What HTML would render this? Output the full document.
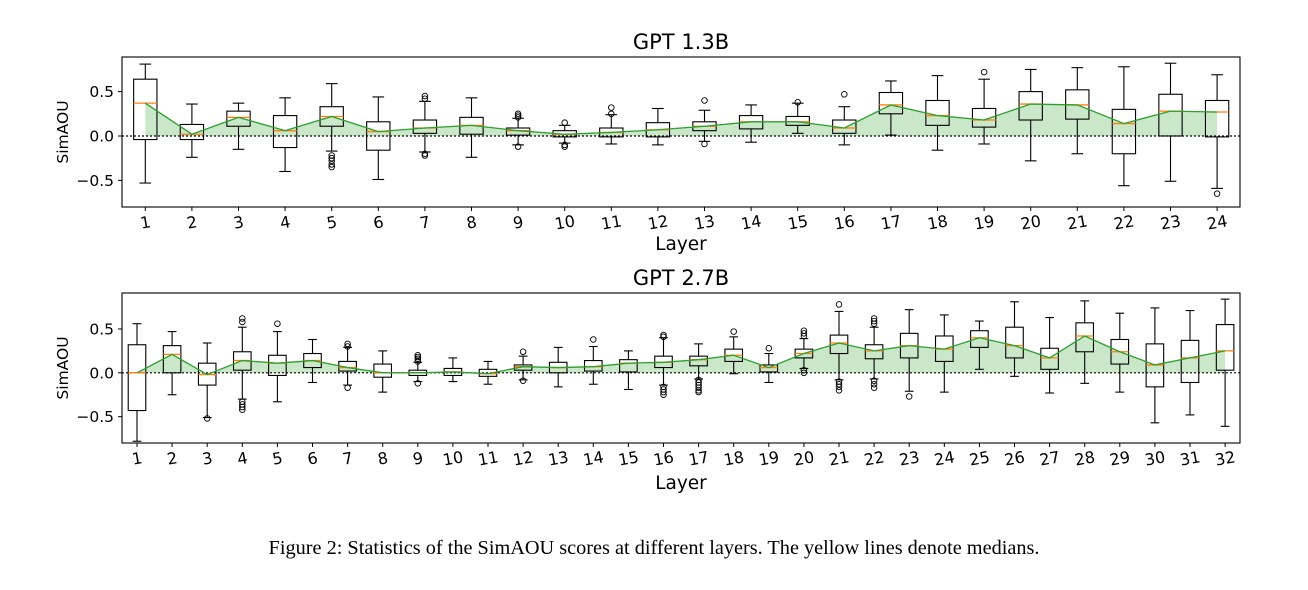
<!DOCTYPE html>
<html><head><meta charset="utf-8"><style>
body{margin:0;background:#fff;width:1308px;height:590px;overflow:hidden}
svg{display:block}
text{font-family:"DejaVu Sans","Liberation Sans",sans-serif;fill:#000}
.cap{font-family:"Liberation Serif",serif;font-size:20.3px}
</style></head><body>
<svg id="fig" width="1308" height="590" viewBox="0 0 1308 590">
<text class="cap" x="654" y="554" text-anchor="middle">Figure 2: Statistics of the SimAOU scores at different layers. The yellow lines denote medians.</text>
</svg>
<script>
// GPT 1.3B: [whiskerHigh, q3, median, q1, whiskerLow]
const stats13 = [
[0.81,0.64,0.37,-0.04,-0.53],[0.36,0.13,0.02,-0.04,-0.24],[0.37,0.28,0.21,0.11,-0.15],[0.43,0.23,0.06,-0.13,-0.40],
[0.59,0.33,0.22,0.11,-0.17],[0.44,0.16,0.05,-0.16,-0.49],[0.39,0.18,0.09,0.03,-0.18],[0.43,0.21,0.12,0.02,-0.24],
[0.20,0.09,0.06,0.01,-0.10],[0.12,0.06,0.02,-0.01,-0.08],[0.24,0.09,0.04,-0.01,-0.09],[0.31,0.15,0.07,-0.01,-0.10],
[0.29,0.16,0.11,0.06,-0.06],[0.35,0.23,0.16,0.08,-0.07],[0.37,0.22,0.16,0.12,0.03],[0.33,0.18,0.09,0.03,-0.10],
[0.62,0.49,0.35,0.25,0.01],[0.68,0.40,0.23,0.12,-0.16],[0.64,0.31,0.18,0.10,-0.09],[0.75,0.50,0.36,0.18,-0.28],
[0.77,0.52,0.35,0.19,-0.20],[0.78,0.30,0.14,-0.20,-0.56],[0.82,0.47,0.28,0.00,-0.51],[0.69,0.40,0.27,-0.01,-0.59]];
const outliers13 = [[],[],[],[],[-0.22,-0.25,-0.28,-0.32,-0.35],[],[0.42,0.45,-0.20,-0.22],[],[0.21,0.23,0.25,-0.12],[0.15,-0.10,-0.12],
[0.25,0.32],[],[0.40,-0.09],[],[0.38],[0.47],[],[],[0.72],[],[],[],[],[-0.65]];
// GPT 2.7B
const stats27 = [
[0.56,0.32,0.00,-0.43,-0.78],[0.47,0.31,0.21,0.00,-0.25],[0.34,0.11,-0.02,-0.14,-0.51],[0.52,0.24,0.14,0.03,-0.30],
[0.47,0.20,0.11,-0.03,-0.33],[0.38,0.22,0.14,0.06,-0.11],[0.29,0.13,0.06,0.02,-0.14],[0.25,0.10,0.00,-0.05,-0.22],
[0.12,0.03,0.00,-0.03,-0.10],[0.17,0.05,0.01,-0.03,-0.10],[0.13,0.04,-0.01,-0.04,-0.13],[0.19,0.09,0.07,0.03,-0.08],
[0.29,0.12,0.06,0.00,-0.16],[0.30,0.14,0.07,0.02,-0.13],[0.25,0.15,0.11,0.01,-0.19],[0.40,0.19,0.12,0.06,-0.14],
[0.33,0.19,0.15,0.08,-0.07],[0.41,0.27,0.20,0.13,-0.01],[0.22,0.09,0.06,0.01,-0.11],[0.39,0.27,0.22,0.17,0.05],
[0.70,0.43,0.34,0.22,-0.08],[0.52,0.32,0.25,0.16,-0.07],[0.72,0.45,0.31,0.17,-0.21],[0.66,0.42,0.27,0.13,-0.22],
[0.59,0.48,0.40,0.29,0.04],[0.81,0.52,0.31,0.17,-0.04],[0.63,0.28,0.17,0.04,-0.23],[0.82,0.57,0.42,0.24,-0.12],
[0.68,0.38,0.24,0.10,-0.22],[0.74,0.33,0.09,-0.16,-0.57],[0.71,0.37,0.17,-0.11,-0.48],[0.84,0.55,0.25,0.03,-0.61]];
const outliers27 = [[],[],[-0.52],[0.58,0.62,-0.33,-0.36,-0.39,-0.42],[0.56],[],[0.30,0.33,-0.17],[],[0.13,0.16,0.18,0.20,-0.12],[],
[],[0.24,-0.09],[],[0.38],[],[0.41,0.43,-0.16,-0.19,-0.22,-0.25],[-0.08,-0.11,-0.14,-0.17,-0.20,-0.22],[0.47],[0.28],[0.42,0.45,0.48,0.00,0.03],
[0.78,-0.10,-0.13,-0.16,-0.20],[0.56,0.59,0.62,-0.09,-0.13,-0.17],[-0.27],[],[],[],[],[],[],[],[],[]];
const yTicks = [-0.5,0.0,0.5];
const yTickLabels = ["\u22120.5","0.0","0.5"];

const NS="http://www.w3.org/2000/svg";
const svg=document.getElementById('fig');
function mk(tag,attrs,parent){const e=document.createElementNS(NS,tag);for(const k in attrs)e.setAttribute(k,attrs[k]);(parent||svg).appendChild(e);return e;}

function drawChart(cfg){
  const {stats,outs,L,R,T,B,ymin,ymax,x1,dx,title,titleY,layerY,tag}=cfg;
  const g=mk('g',{});
  
  
  const X=i=>x1+i*dx;
  const Y=v=>B-(v-ymin)/(ymax-ymin)*(B-T);
  let d='M'+X(0)+','+Y(0);
  stats.forEach((s,i)=>{d+=' L'+X(i)+','+Y(s[2]);});
  d+=' L'+X(stats.length-1)+','+Y(0)+' Z';
  const area=mk('path',{d:d,fill:'rgba(44,160,44,0.25)',stroke:'none'},g);
  
  
  const z=mk('line',{x1:L,x2:R,y1:Y(0),y2:Y(0),stroke:'#000','stroke-width':1.2,'stroke-dasharray':'2,2'},g);
  
  
  const hw=dx*0.25;
  stats.forEach((s,i)=>{
    const b=mk('g',{},g);
    
    
    const x=X(i);
    mk('line',{x1:x,x2:x,y1:Y(s[0]),y2:Y(s[1]),stroke:'#000','stroke-width':1.1},b);
    mk('line',{x1:x,x2:x,y1:Y(s[3]),y2:Y(s[4]),stroke:'#000','stroke-width':1.1},b);
    mk('line',{x1:x-hw/2,x2:x+hw/2,y1:Y(s[0]),y2:Y(s[0]),stroke:'#000','stroke-width':1.1},b);
    mk('line',{x1:x-hw/2,x2:x+hw/2,y1:Y(s[4]),y2:Y(s[4]),stroke:'#000','stroke-width':1.1},b);
    mk('rect',{x:x-hw,y:Y(s[1]),width:2*hw,height:Math.max(1,Y(s[3])-Y(s[1])),fill:'none',stroke:'#000','stroke-width':1.1},b);
    mk('line',{x1:x-hw,x2:x+hw,y1:Y(s[2]),y2:Y(s[2]),stroke:'#ff7f0e','stroke-width':1.3},b);
    outs[i].forEach(v=>{mk('circle',{cx:x,cy:Y(v),r:2.8,fill:'none',stroke:'#000','stroke-width':0.9},b);});
  });
  let p='';stats.forEach((s,i)=>{p+=(i?' L':'M')+X(i)+','+Y(s[2]);});
  const ml=mk('path',{d:p,fill:'none',stroke:'#2ca02c','stroke-width':1.3},g);
  
  
  const fr=mk('rect',{x:L,y:T,width:R-L,height:B-T,fill:'none',stroke:'#000','stroke-width':1.1},g);
  
  
  yTicks.forEach((v,k)=>{
    mk('line',{x1:L-4,x2:L,y1:Y(v),y2:Y(v),stroke:'#000'},g);
    const t=mk('text',{x:L-8,y:Y(v)+5.5,'text-anchor':'end','font-size':15.5},g);
    t.textContent=yTickLabels[k];
    
    
  });
  stats.forEach((s,i)=>{
    const x=X(i);
    mk('line',{x1:x,x2:x,y1:B,y2:B+4,stroke:'#000'},g);
    const t=mk('text',{x:x,y:B+21,'text-anchor':'middle','font-size':16,transform:'rotate(-10 '+x+' '+(B+15)+')'},g);
    t.textContent=String(i+1);
    
    
  });
  const yl=mk('text',{x:0,y:0,'text-anchor':'middle','font-size':15.5,transform:'translate(68,'+((T+B)/2)+') rotate(-90)'},g);
  yl.textContent='SimAOU';
  
  
  const xl=mk('text',{x:(L+R)/2,y:layerY,'text-anchor':'middle','font-size':18.5},g);
  xl.textContent='Layer';
  
  
  const tt=mk('text',{x:(L+R)/2,y:titleY,'text-anchor':'middle','font-size':21},g);
  tt.textContent=title;
  
  
}
drawChart({stats:stats13,outs:outliers13,L:122,R:1240,T:57,B:207,ymin:-0.80,ymax:0.89,x1:145.3,dx:46.6,title:'GPT 1.3B',titleY:49,layerY:250,tag:'gpt-1-3b'});
drawChart({stats:stats27,outs:outliers27,L:122,R:1240,T:293,B:443,ymin:-0.80,ymax:0.91,x1:137,dx:35.1,title:'GPT 2.7B',titleY:285,layerY:489,tag:'gpt-2-7b'});
</script>
</body></html>
